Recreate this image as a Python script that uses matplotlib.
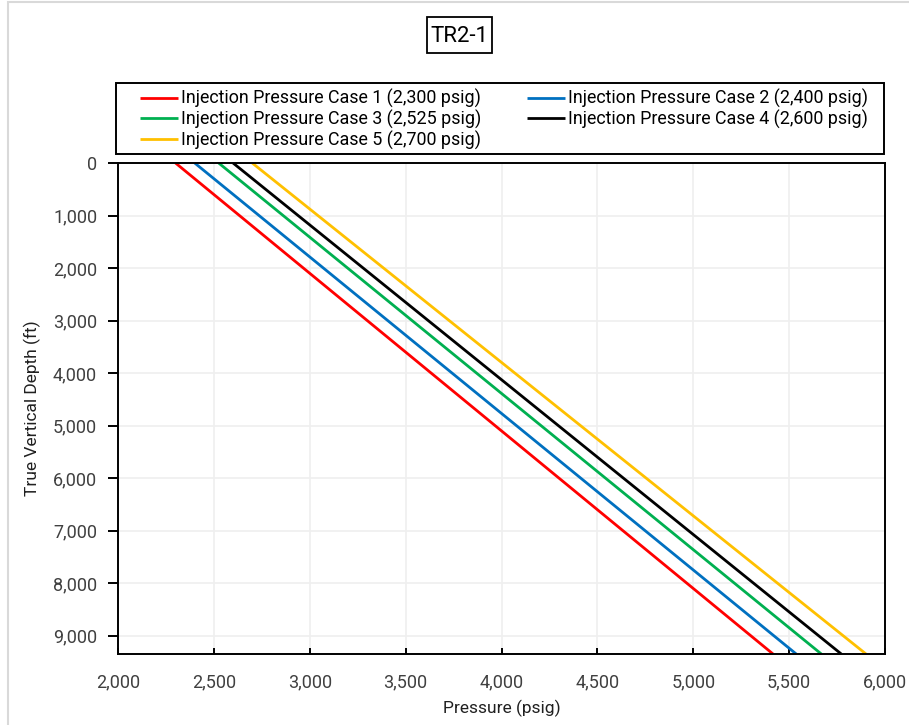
import matplotlib
matplotlib.use("Agg")
import matplotlib.pyplot as plt
from matplotlib.ticker import FuncFormatter, MultipleLocator
from matplotlib.patches import Rectangle

# depth points (ft) and pressures (psig)
depth = [0, 9350]
case1 = [2300, 5416]
case2 = [2400, 5537]
case3 = [2525, 5668]
case4 = [2600, 5772]
case5 = [2700, 5901]

labels = ["Injection Pressure Case 1 (2,300 psig)",
          "Injection Pressure Case 2 (2,400 psig)",
          "Injection Pressure Case 3 (2,525 psig)",
          "Injection Pressure Case 4 (2,600 psig)",
          "Injection Pressure Case 5 (2,700 psig)"]
colors = ["#FF0000", "#0070C0", "#00B050", "#000000", "#FFC000"]

plt.rcParams['font.family'] = ['Roboto', 'DejaVu Sans']

W, H = 909, 725
fig = plt.figure(figsize=(W / 100, H / 100), dpi=100)

def fx(px):
    return px / W

def fy(py):
    return 1 - py / H

ax = fig.add_axes([fx(118), fy(654), fx(885) - fx(118), fy(163) - fy(654)])

lines = []
for vals, lab, c in zip([case1, case2, case3, case4, case5], labels, colors):
    l, = ax.plot(vals, depth, color=c, lw=2.0, label=lab, solid_capstyle='butt')
    lines.append(l)

ax.set_xlim(2000, 6000)
ax.set_ylim(9350, 0)
ax.xaxis.set_major_locator(MultipleLocator(500))
ax.yaxis.set_major_locator(MultipleLocator(1000))
fmt = FuncFormatter(lambda v, p: "{:,.0f}".format(v))
ax.xaxis.set_major_formatter(fmt)
ax.yaxis.set_major_formatter(fmt)
ax.grid(True, color="#EFEFEF", lw=1.2)
ax.set_axisbelow(True)
for s in ax.spines.values():
    s.set_linewidth(1.4)
ax.tick_params(axis='x', direction='in', length=4, width=1.4, labelsize=13, pad=14, labelcolor='#404040')
ax.tick_params(axis='y', direction='out', length=7, width=1.4, labelsize=13, pad=8, labelcolor='#404040')
ax.set_xlabel("Pressure (psig)", fontsize=12.5, labelpad=6, color='#202020')
ax.set_ylabel("True Vertical Depth (ft)", fontsize=12.5, labelpad=9, color='#202020')

# legend frame drawn separately, entries placed inside it
fig.patches.append(Rectangle((fx(116), fy(154)), fx(884) - fx(116), fy(83) - fy(154),
                             transform=fig.transFigure, fill=False, ec='black', lw=1.4))
order = [0, 2, 4, 1, 3]
leg = fig.legend([lines[i] for i in order], [labels[i] for i in order],
                 ncol=2, loc='upper left', bbox_to_anchor=(fx(140), fy(89)),
                 frameon=False, fontsize=12.9,
                 handlelength=2.1, handletextpad=0.2, borderpad=0,
                 labelspacing=0.09, columnspacing=2.55, borderaxespad=0)

fig.text(fx(459), fy(36), "TR2-1", fontsize=16, ha='center', va='center')
fig.patches.append(Rectangle((fx(427), fy(53)), fx(492) - fx(427), fy(17) - fy(53),
                             transform=fig.transFigure, fill=False, ec='black', lw=1.3))

fig.patches.append(Rectangle((fx(8), fy(740)), fx(920) - fx(8), fy(2) - fy(740),
                             transform=fig.transFigure, fill=False, ec='#D9D9D9', lw=1.5))

fig.savefig("out.png", dpi=100)
